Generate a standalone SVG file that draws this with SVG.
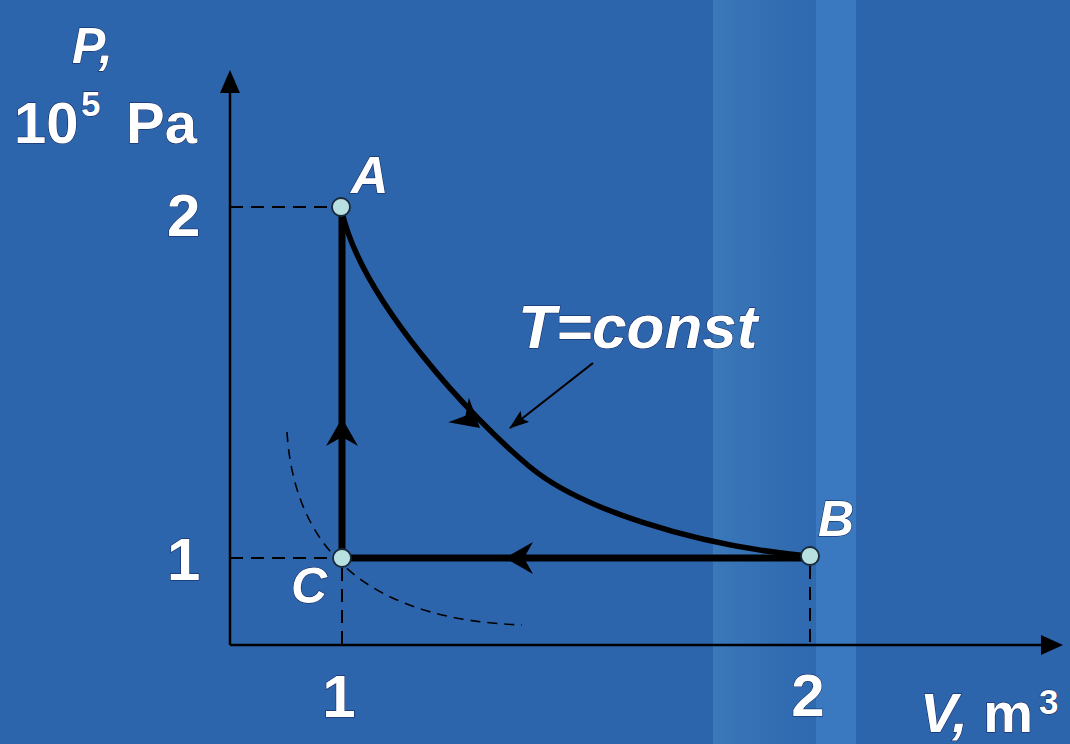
<svg xmlns="http://www.w3.org/2000/svg" width="1070" height="744" viewBox="0 0 1070 744">
<defs>
<style>
.t{font-family:"Liberation Sans",Arial,sans-serif;font-weight:bold;fill:#ffffff;stroke:#0a1a50;stroke-width:1;paint-order:stroke}
.i{font-style:italic}
.axis{stroke:#000;stroke-width:2.5;fill:none}
.dash{stroke:#000;stroke-width:2;stroke-dasharray:13 8;fill:none}
.thick{stroke:#000;stroke-width:7;fill:none}
.pt{fill:#b8e0e0;stroke:#1a2a3a;stroke-width:1.8}
</style>
<linearGradient id="g1" x1="0" y1="0" x2="1" y2="0">
<stop offset="0" stop-color="#3a79ba"/>
<stop offset="0.3" stop-color="#3672b5"/>
<stop offset="1" stop-color="#2e68af"/>
</linearGradient>
<path id="ah" d="M0,0 L-28,-16 L-19,0 L-28,16 Z" fill="#000"/>
<marker id="pa" viewBox="0 0 20 14" refX="19" refY="7" markerWidth="20" markerHeight="14" markerUnits="userSpaceOnUse" orient="auto">
<path d="M0,0 L20,7 L0,14 L4,7 Z" fill="#000"/>
</marker>
</defs>
<rect width="1070" height="744" fill="#2d65ad"/>
<rect x="713" y="0" width="103" height="744" fill="url(#g1)"/>
<rect x="816" y="0" width="40" height="744" fill="#3a79bf"/>

<g id="axes">
<line class="axis" x1="230" y1="645" x2="230" y2="90"/>
<path d="M230,70 L220,93 L240,93 Z" fill="#000"/>
<line class="axis" x1="230" y1="645" x2="1045" y2="645"/>
<path d="M1063,645 L1041,635 L1041,655 Z" fill="#000"/>
<line class="dash" x1="230" y1="207" x2="331" y2="207"/>
<line class="dash" x1="230" y1="558" x2="332" y2="558"/>
<line class="dash" x1="342" y1="568" x2="342" y2="645"/>
<line class="dash" x1="810" y1="566" x2="810" y2="645"/>
<path d="M287,432 C295,560 380,620 522,625" stroke="#000" stroke-width="1.6" stroke-dasharray="10 7" fill="none"/>
<text class="t i" x="72" y="63" font-size="50">P,</text>
<text class="t" x="14" y="143" font-size="58">10</text>
<text class="t" x="81" y="116" font-size="35">5</text>
<text class="t" x="126" y="143" font-size="58">Pa</text>
<text class="t" x="167" y="236" font-size="60">2</text>
<text class="t" x="167" y="580" font-size="60">1</text>
<text class="t" x="339" y="717" font-size="60" text-anchor="middle">1</text>
<text class="t" x="808" y="716" font-size="60" text-anchor="middle">2</text>
<text class="t" x="920" y="732" font-size="56"><tspan class="i">V,</tspan> m</text>
<text class="t" x="1039" y="714" font-size="35">3</text>
</g>

<g id="connectors">
<path id="AB" d="M342,212 C362,300 470,417 530,467 C578,507 690,545 808,556" stroke="#000" stroke-width="5.5" fill="none"/>
<line id="BC" class="thick" x1="810" y1="558" x2="342" y2="558"/>
<line id="CA" class="thick" x1="342" y1="558" x2="342" y2="210"/>
<use href="#ah" transform="translate(342,418) rotate(-90)"/>
<use href="#ah" transform="translate(505,558) rotate(180)"/>
<use href="#ah" transform="translate(480,428) rotate(40)"/>
<line x1="593" y1="363" x2="510" y2="428" stroke="#000" stroke-width="2.2" marker-end="url(#pa)"/>
<text class="t i" x="518" y="348" font-size="62">T=const</text>
</g>

<g id="node-A">
<circle class="pt" cx="341" cy="207" r="9"/>
<text class="t i" x="351" y="193" font-size="52">A</text>
</g>
<g id="node-B">
<circle class="pt" cx="810" cy="556" r="9"/>
<text class="t i" x="818" y="536" font-size="50">B</text>
</g>
<g id="node-C">
<circle class="pt" cx="342" cy="558" r="9"/>
<text class="t i" x="291" y="603" font-size="50">C</text>
</g>
</svg>
